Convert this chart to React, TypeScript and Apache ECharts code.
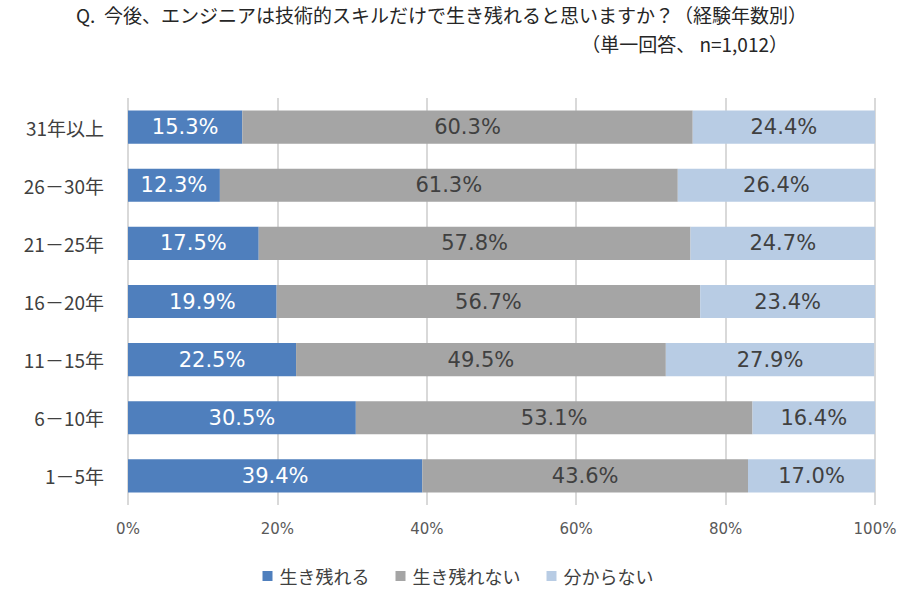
import React, { useEffect, useRef } from "react";
import * as echarts from "echarts";

const categories = ["31年以上", "26－30年", "21－25年", "16－20年", "11－15年", "6－10年", "1－5年"];
const survive = [15.3, 12.3, 17.5, 19.9, 22.5, 30.5, 39.4];
const notSurvive = [60.3, 61.3, 57.8, 56.7, 49.5, 53.1, 43.6];
const unknown = [24.4, 26.4, 24.7, 23.4, 27.9, 16.4, 17.0];
const seriesNames = ["生き残れる", "生き残れない", "分からない"];
const colors = ["#4f7fbd", "#a5a5a5", "#b8cce4"];
const titleLine1 = "Q.  今後、エンジニアは技術的スキルだけで生き残れると思いますか？（経験年数別）";
const titleLine2 = "（単一回答、 n=1,012）";

export default function App() {
  const ref = useRef<HTMLDivElement>(null);
  useEffect(() => {
    if (!ref.current) return;
    const chart = echarts.init(ref.current, undefined, { renderer: "svg" });
    const cjk = '"Noto Sans CJK JP", sans-serif';
    const num = '"DejaVu Sans", "Noto Sans CJK JP", sans-serif';
    const data = [survive, notSurvive, unknown];
    chart.setOption({
      animation: false,
      backgroundColor: "#ffffff",
      graphic: [
        {
          type: "text",
          left: 76,
          top: 5,
          style: { text: titleLine1, font: `19px ${cjk}`, fill: "#262626" },
        },
        {
          type: "text",
          right: 128,
          top: 34,
          style: { text: titleLine2, font: `19px ${cjk}`, fill: "#262626", textAlign: "right" },
        },
      ],
      legend: {
        bottom: 4,
        left: "center",
        itemWidth: 10,
        itemHeight: 10,
        itemGap: 26,
        icon: "rect",
        textStyle: { fontFamily: cjk, fontSize: 18, color: "#404040", padding: [0, 0, 0, 2] },
        data: seriesNames,
      },
      grid: { left: 128, right: 41, top: 98, bottom: 89, containLabel: false },
      xAxis: {
        type: "value",
        min: 0,
        max: 100,
        interval: 20,
        axisLabel: {
          formatter: "{value}%",
          color: "#595959",
          fontSize: 15,
          fontFamily: num,
          margin: 16,
        },
        axisLine: { show: false },
        axisTick: { show: false },
        splitLine: { show: true, lineStyle: { color: "#d9d9d9", width: 2 } },
      },
      yAxis: {
        type: "category",
        data: categories,
        inverse: true,
        axisLabel: { color: "#404040", fontSize: 19, fontFamily: cjk, margin: 24 },
        axisLine: { show: false },
        axisTick: { show: false },
      },
      series: seriesNames.map((name, i) => ({
        name,
        type: "bar",
        stack: "total",
        barWidth: "57%",
        itemStyle: { color: colors[i] },
        label: {
          show: true,
          position: "inside",
          formatter: (p: any) => `${Number(p.value).toFixed(1)}%`,
          color: i === 0 ? "#ffffff" : "#404040",
          fontSize: 21,
          fontFamily: num,
        },
        data: data[i],
      })),
    });
    return () => chart.dispose();
  }, []);
  return <div ref={ref} style={{ width: 916, height: 594, position: "absolute", left: 0, top: 0 }} />;
}
